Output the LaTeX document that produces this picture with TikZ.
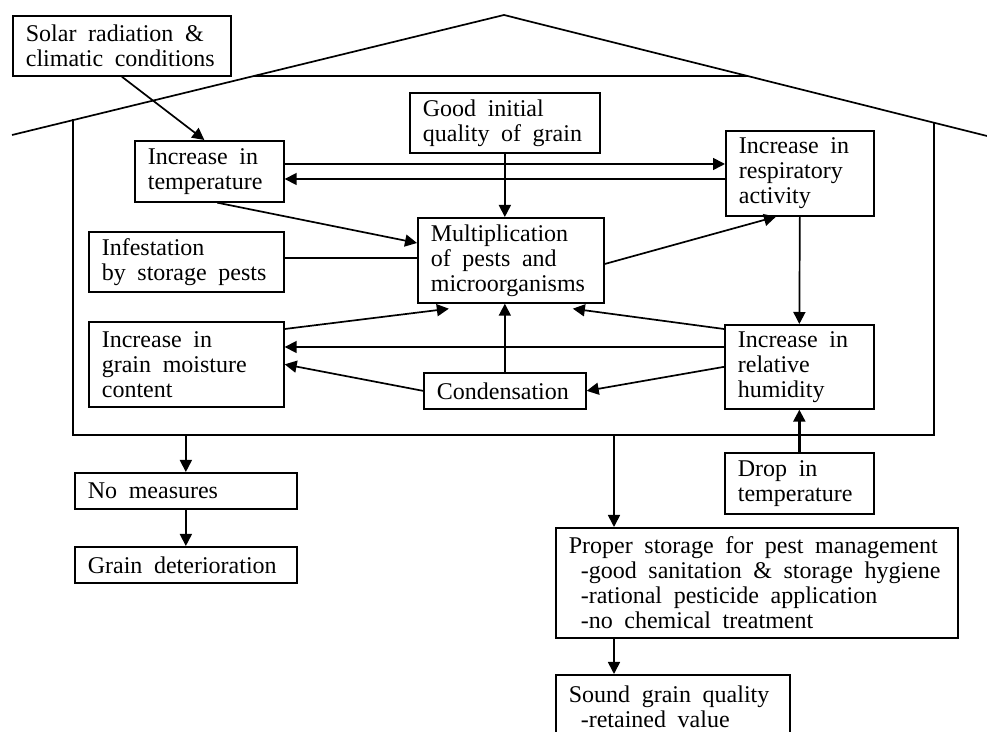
\documentclass[tikz,border=0pt]{standalone}
\usepackage{fontspec}
\setmainfont{Liberation Serif}
\usepackage{tikz}
\usetikzlibrary{arrows.meta}

\protected\def\widespace{\spaceskip=5.8pt plus 1pt minus 0.5pt\relax}

\begin{document}
\begin{tikzpicture}[
    x=0.5pt, y=-0.5pt,
    box/.style={draw, line width=0.85pt, anchor=north west, align=left,
        inner xsep=6.5pt, inner ysep=1pt,
        font=\fontsize{12}{12.5}\selectfont, execute at begin node=\widespace},
    arr/.style={-{Triangle[length=6pt, width=6pt]}, line width=0.85pt},
    wall/.style={line width=0.85pt}
]
    \useasboundingbox (0,0) rectangle (987,732);

    % Define the store house
    \coordinate (ridge) at (504,15);
    \coordinate (wallB) at (73,435);
    \coordinate (gate) at (614,435);
    \draw[wall] (12,135) -- (ridge) -- (987,136);
    \draw[wall] (254,76) -- (748,76);
    \draw[wall] (73,119) -- (wallB) -- (934,435) -- (934,123);

    % Define nodes
    \node[box, text width=96pt, minimum height=30pt] (solar) at (12,15) {Solar radiation \&\\climatic conditions};
    \node[box, text width=61.5pt, minimum height=30.5pt] (temp) at (134,140) {Increase in\\temperature};
    \node[box, text width=82pt, minimum height=30pt] (good) at (409,92) {Good initial\\quality of grain};
    \node[box, text width=61pt, minimum height=42.5pt] (resp) at (725,130) {Increase in\\respiratory\\activity};
    \node[box, text width=84.5pt, minimum height=30pt] (inf) at (88,231) {Infestation\\by storage pests};
    \node[box, text width=80pt, minimum height=42.5pt] (mult) at (417,217) {Multiplication\\of pests and\\microorganisms};
    \node[box, text width=84.5pt, minimum height=42.5pt] (moist) at (88,321) {Increase in\\grain moisture\\content};
    \node[box, text width=68pt, minimum height=18pt] (cond) at (423,372) {Condensation};
    \node[box, text width=61.5pt, minimum height=42pt] (humid) at (724,324) {Increase in\\relative\\humidity};
    \node[box, text width=61.5pt, minimum height=30.5pt] (drop) at (724,452) {Drop in\\temperature};
    \node[box, text width=98pt, minimum height=18pt] (nomeas) at (74,472) {No measures};
    \node[box, text width=98pt, minimum height=18pt] (det) at (74,546) {Grain deterioration};
    \node[box, text width=188pt, minimum height=55pt] (proper) at (555,527) {Proper storage for pest management\\
        \hspace{6pt}-good sanitation \& storage hygiene\\
        \hspace{6pt}-rational pesticide application\\
        \hspace{6pt}-no chemical treatment};
    \node[box, text width=104pt, minimum height=32pt] (sound) at (555,674) {Sound grain quality\\\hspace{6pt}-retained value};

    % Connect nodes
    \draw[arr] (solar.south) -- ([xshift=-2.5pt]temp.north);
    \draw[arr] (temp.east |- 0,164) -- (resp.west |- 0,164);
    \draw[arr] (resp.west |- 0,179) -- (temp.east |- 0,179);
    \draw[arr] (good.south) -- (good.south |- mult.north);
    \draw[arr] ([xshift=4pt]temp.south) -- (mult.west |- 0,243);
    \draw[wall] (inf.east |- 0,258) -- (mult.west |- 0,258);
    \draw[arr] (mult.east |- 0,264) -- (resp.south -| 776,0);
    \draw[arr] (resp.south) -- (humid.north);
    \draw[arr] ([shift={(0,5)}]humid.north west) -- ([shift={(62,5)}]mult.south);
    \draw[arr] ([shift={(0,8)}]moist.north east) -- ([shift={(-62,5)}]mult.south);
    \draw[arr] (cond.north) -- (cond.north |- mult.south);
    \draw[arr] (humid.west |- 0,347) -- (moist.east |- 0,347);
    \draw[arr] (humid.west) -- (cond.east);
    \draw[arr] (cond.west) -- (moist.east);
    \draw[arr, line width=1.2pt] (drop.north) -- (humid.south);
    \draw[arr] (wallB -| nomeas.north) -- (nomeas.north);
    \draw[arr] (nomeas.south) -- (det.north);
    \draw[arr] (gate) -- (gate |- proper.north);
    \draw[arr] (gate |- proper.south) -- (gate |- sound.north);

\end{tikzpicture}
\end{document}
